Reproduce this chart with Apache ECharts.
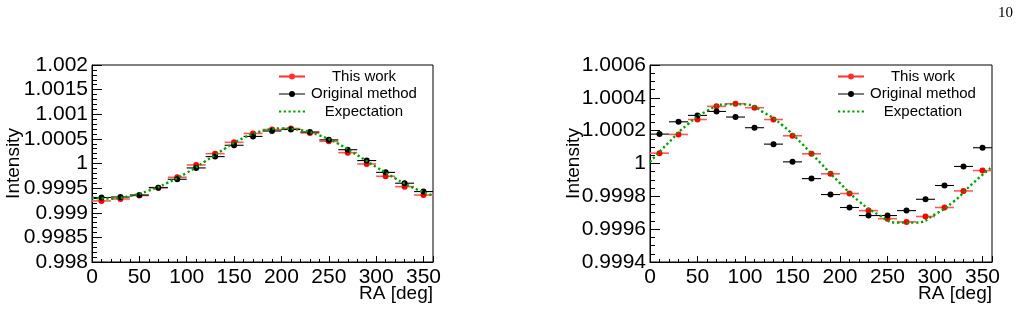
<!DOCTYPE html>
<html>
<head>
<meta charset="utf-8">
<script src="https://cdn.jsdelivr.net/npm/echarts@6/dist/echarts.min.js"></script>
<style>
  html, body { margin: 0; padding: 0; background: #fff; }
  #chart { width: 1022px; height: 312px; }
</style>
</head>
<body>
<div id="chart"></div>
<script>
// ---- data ----
const binCenters = [10, 30, 50, 70, 90, 110, 130, 150, 170, 190, 210, 230, 250, 270, 290, 310, 330, 350];
const binHalfWidth = 10;

const leftThisWork = [0.99924, 0.99928, 0.99935, 0.99951, 0.99972, 0.99997, 1.00020, 1.00043, 1.00061,
                      1.00069, 1.00071, 1.00062, 1.00045, 1.00022, 0.99999, 0.99974, 0.99953, 0.99936];
const leftOriginal = [0.99931, 0.99932, 0.99936, 0.99951, 0.99968, 0.99991, 1.00014, 1.00037, 1.00055,
                      1.00066, 1.00069, 1.00064, 1.00048, 1.00028, 1.00006, 0.99982, 0.99960, 0.99943];
const leftExpX = [0, 20, 40, 60, 80, 100, 120, 140, 160, 180, 200, 220, 240, 260, 280, 300, 320, 340, 360];
const leftExpY = [0.99930, 0.99929, 0.99934, 0.99945, 0.99961, 0.99981, 1.00005, 1.00030, 1.00052,
                  1.00066, 1.00071, 1.00068, 1.00057, 1.00040, 1.00017, 0.99993, 0.99970, 0.99950, 0.99935];

const rightThisWork = [1.000063, 1.000177, 1.000268, 1.000348, 1.000364, 1.000340, 1.000268, 1.000169, 1.000059,
                       0.999937, 0.999817, 0.999713, 0.999664, 0.999644, 0.999677, 0.999732, 0.999833, 0.999957];
const rightOriginal = [1.000179, 1.000254, 1.000293, 1.000317, 1.000283, 1.000218, 1.000118, 1.000010, 0.999908,
                       0.999811, 0.999732, 0.999683, 0.999683, 0.999713, 0.999782, 0.999866, 0.999982, 1.000096];
const rightExpX = [0, 20, 40, 60, 80, 100, 120, 140, 160, 180, 200, 220, 240, 260, 280, 300, 320, 340, 360];
const rightExpY = [1.00001, 1.00013, 1.00024, 1.00032, 1.00036, 1.00036, 1.00031, 1.00023, 1.00012, 1.00000,
                   0.99988, 0.99977, 0.99969, 0.99964, 0.99964, 0.99969, 0.99977, 0.99988, 0.99998];

const xTickLabels = ['0', '50', '100', '150', '200', '250', '300', '350'];
const leftYTickLabels = ['0.998', '0.9985', '0.999', '0.9995', '1', '1.0005', '1.001', '1.0015', '1.002'];
const rightYTickLabels = ['0.9994', '0.9996', '0.9998', '1', '1.0002', '1.0004', '1.0006'];
const legendNames = ['This work', 'Original method', 'Expectation'];
const xTitle = 'RA [deg]';
const yTitle = 'Intensity';
const pageNumber = '10';

// ---- helpers ----
const FONT = '"Liberation Sans", Arial, Helvetica, sans-serif';
function labelFrom(list) {
  return function (v) {
    const hit = list.find(l => Math.abs(parseFloat(l) - v) < 1e-9);
    return hit === undefined ? '' : hit;
  };
}
function errRender(lineColor, lineWidth, dotColor) {
  return function (params, api) {
    const x = api.value(0), y = api.value(1), hw = api.value(2);
    const a = api.coord([x - hw, y]);
    const b = api.coord([x + hw, y]);
    const c = api.coord([x, y]);
    return {
      type: 'group',
      children: [
        { type: 'line', shape: { x1: a[0], y1: a[1], x2: b[0], y2: b[1] },
          style: { stroke: lineColor, lineWidth: lineWidth } },
        { type: 'circle', shape: { cx: c[0], cy: c[1], r: 3 }, style: { fill: dotColor } }
      ]
    };
  };
}
function pts(vals) { return binCenters.map((x, i) => [x, vals[i], binHalfWidth]); }

const grids = [
  { left: 92, top: 65, width: 341, height: 197 },
  { left: 650, top: 65, width: 342, height: 197 }
];
const yRanges = [
  { min: 0.998, max: 1.002, major: 0.0005, minor: 0.0001, labels: leftYTickLabels, gap: 69 },
  { min: 0.9994, max: 1.0006, major: 0.0002, minor: 0.00005, labels: rightYTickLabels, gap: 67 }
];

const xAxis = [], yAxis = [];
grids.forEach((g, i) => {
  xAxis.push({
    type: 'value', gridIndex: i, min: 0, max: 360, interval: 50,
    axisLine: { show: true, lineStyle: { color: '#000', width: 1 } },
    axisTick: { show: true, inside: true, length: 6, lineStyle: { color: '#000' } },
    axisLabel: { show: true, margin: 5, color: '#000', fontSize: 21, fontFamily: FONT,
                 formatter: labelFrom(xTickLabels) },
    splitLine: { show: false }
  });
  xAxis.push({
    type: 'value', gridIndex: i, min: 0, max: 360, interval: 10, position: 'bottom',
    axisLine: { show: false },
    axisTick: { show: true, inside: true, length: 3, lineStyle: { color: '#000' } },
    axisLabel: { show: false }, splitLine: { show: false }
  });
  const r = yRanges[i];
  yAxis.push({
    type: 'value', gridIndex: i, min: r.min, max: r.max, interval: r.major, position: 'left',
    axisLine: { show: true, lineStyle: { color: '#000', width: 1 } },
    axisTick: { show: true, inside: true, length: 10, lineStyle: { color: '#000' } },
    axisLabel: { show: true, margin: 4, color: '#000', fontSize: 21, fontFamily: FONT,
                 formatter: labelFrom(r.labels) },
    splitLine: { show: false },
    name: yTitle, nameLocation: 'middle', nameGap: r.gap, nameRotate: 90, nameMoveOverlap: false,
    nameTextStyle: { color: '#000', fontSize: 19, fontFamily: FONT }
  });
  yAxis.push({
    type: 'value', gridIndex: i, min: r.min, max: r.max, interval: r.minor, position: 'left', offset: 0,
    axisLine: { show: false },
    axisTick: { show: true, inside: true, length: 5, lineStyle: { color: '#000' } },
    axisLabel: { show: false }, splitLine: { show: false }
  });
});

const panels = [
  { tw: leftThisWork, om: leftOriginal, ex: leftExpX, ey: leftExpY },
  { tw: rightThisWork, om: rightOriginal, ex: rightExpX, ey: rightExpY }
];
const series = [];
panels.forEach((p, i) => {
  const xi = i * 2, yi = i * 2;
  series.push({
    name: legendNames[0], type: 'custom', xAxisIndex: xi, yAxisIndex: yi, clip: true,
    renderItem: errRender('#ff5a5a', 1.6, '#ff0000'),
    encode: { x: 0, y: 1 }, data: pts(p.tw), z: 2
  });
  series.push({
    name: legendNames[1], type: 'custom', xAxisIndex: xi, yAxisIndex: yi, clip: true,
    renderItem: errRender('#000000', 1.1, '#000000'),
    encode: { x: 0, y: 1 }, data: pts(p.om), z: 3
  });
  series.push({
    name: legendNames[2], type: 'line', xAxisIndex: xi, yAxisIndex: yi, smooth: true,
    showSymbol: false, symbol: 'none',
    lineStyle: { color: '#00a000', width: 2.4, type: [2.2, 2.6] },
    data: p.ex.map((x, k) => [x, p.ey[k]]), z: 4
  });
});

const iconRed = 'path://M0,2.1 L26,2.1 L26,3.9 L0,3.9 Z M13,0 A3,3 0 1 1 13,6 A3,3 0 1 1 13,0 Z';
const iconBlack = 'path://M0,2.5 L26,2.5 L26,3.5 L0,3.5 Z M13,0 A3,3 0 1 1 13,6 A3,3 0 1 1 13,0 Z';
const iconGreen = 'path://M0,0 h2.2 v2.2 h-2.2 Z M4.7,0 h2.2 v2.2 h-2.2 Z M9.4,0 h2.2 v2.2 h-2.2 Z M14.1,0 h2.2 v2.2 h-2.2 Z M18.8,0 h2.2 v2.2 h-2.2 Z M23.5,0 h2.2 v2.2 h-2.2 Z';

function makeLegend(left) {
  return {
    orient: 'vertical', left: left, top: 69, itemGap: 2.5, itemWidth: 26, itemHeight: 10,
    selectedMode: false, padding: 0,
    data: [
      { name: legendNames[0], icon: iconRed, itemStyle: { color: '#ff3030' } },
      { name: legendNames[1], icon: iconBlack, itemStyle: { color: '#000' } },
      { name: legendNames[2], icon: iconGreen, itemStyle: { color: '#00a000' } }
    ],
    formatter: n => '{t|' + n + '}',
    textStyle: {
      rich: { t: { width: 108, align: 'center', lineHeight: 15, fontSize: 15, fontFamily: FONT, color: '#000' } }
    }
  };
}

function xTitleText(rightX) {
  return { type: 'text', x: rightX, y: 284, z: 10,
           style: { text: xTitle, textAlign: 'right', textVerticalAlign: 'top',
                    fontSize: 19, fontFamily: FONT, fill: '#000' } };
}

const chart = echarts.init(document.getElementById('chart'), null, { renderer: 'canvas' });
chart.setOption({
  animation: false,
  backgroundColor: '#fff',
  grid: grids.map(g => Object.assign({ show: true, borderColor: '#000', borderWidth: 1,
                                       backgroundColor: 'transparent' }, g)),
  xAxis: xAxis,
  yAxis: yAxis,
  legend: [makeLegend(279), makeLegend(838)],
  series: series,
  graphic: [
    xTitleText(grids[0].left + grids[0].width),
    xTitleText(grids[1].left + grids[1].width),
    { type: 'text', right: 9, top: 6,
      style: { text: pageNumber, fontSize: 15, fontFamily: '"Liberation Serif", "DejaVu Serif", serif', fill: '#000' } }
  ]
});
</script>
</body>
</html>
